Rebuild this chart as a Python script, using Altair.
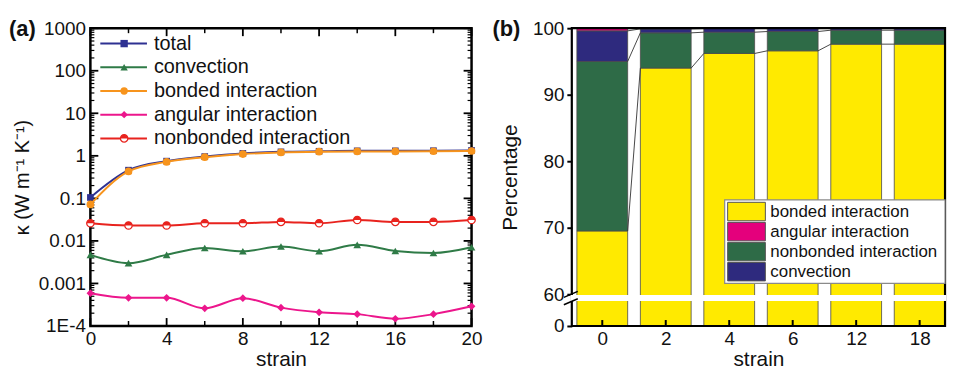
import json
import altair as alt
import pandas as pd

FONT = "Liberation Sans"

# ---------------- panel (a) data ----------------
strain_a = [0, 2, 4, 6, 8, 10, 12, 14, 16, 18, 20]
kappa_total = [0.105, 0.46, 0.75, 0.96, 1.14, 1.24, 1.28, 1.31, 1.31, 1.32, 1.34]
kappa_convection = [0.0047, 0.0030, 0.0047, 0.0068, 0.0057, 0.0074, 0.0057, 0.0081, 0.0058, 0.0052, 0.0071]
kappa_bonded = [0.072, 0.43, 0.72, 0.93, 1.10, 1.20, 1.25, 1.27, 1.27, 1.28, 1.30]
kappa_angular = [0.00059, 0.00046, 0.00046, 0.00026, 0.00045, 0.00027, 0.00021, 0.00019, 0.000148, 0.00019, 0.00029]
kappa_nonbonded = [0.026, 0.023, 0.023, 0.026, 0.026, 0.028, 0.026, 0.031, 0.028, 0.028, 0.031]

series_a = ["total", "convection", "bonded interaction", "angular interaction", "nonbonded interaction"]
colors_a = ["#2E3192", "#2F7B47", "#F7941D", "#EC168C", "#E8231E"]
shapes_a = ["square", "triangle-up", "circle", "diamond", "circle"]

y_ticks_a = [1e-4, 1e-3, 1e-2, 1e-1, 1, 10, 100, 1000]
y_minor_a = [m * 10.0 ** k for k in range(-4, 3) for m in range(2, 10)]
x_ticks_a = [0, 4, 8, 12, 16, 20]
x_minor_a = [2, 6, 10, 14, 18]

# ---------------- panel (b) data ----------------
strain_b = ["0", "2", "4", "6", "12", "18"]
pct_bonded = [69.5, 94.0, 96.2, 96.6, 97.6, 97.6]
pct_nonbonded = [25.5, 5.3, 3.2, 2.9, 2.1, 2.1]
pct_convection = [4.6, 0.6, 0.55, 0.48, 0.28, 0.28]
pct_angular = [0.4, 0.1, 0.05, 0.02, 0.02, 0.02]

stack_order = ["bonded interaction", "nonbonded interaction", "convection", "angular interaction"]
legend_b = ["bonded interaction", "angular interaction", "nonbonded interaction", "convection"]
colors_b = ["#FFEA00", "#E4007C", "#2E6B47", "#2E2A7E"]
y_ticks_b = [60, 70, 80, 90, 100]

# ---------------- layout / style ----------------
W1, H = 384, 300
W2 = 376
BREAK0 = 55.2          # where 0 sits on the broken percentage axis
HALF_BAR = 0.4
HALF_CIRCLE = "M-1,0A1,1,0,0,1,1,0Z"

# ================= panel (a) =================
rows = []
for name, vals in zip(series_a, [kappa_total, kappa_convection, kappa_bonded, kappa_angular, kappa_nonbonded]):
    for s, v in zip(strain_a, vals):
        rows.append({"series": name, "strain": s, "kappa": v})
df_a = pd.DataFrame(rows)
one = pd.DataFrame({"k": [0]})

xs_a = alt.Scale(domain=[0, 20], nice=False, zero=False)
ys_a = alt.Scale(type="log", domain=[1e-4, 1000], nice=False)

x_axis_a = alt.Axis(values=x_ticks_a, ticks=False, domain=False, labelFontSize=19, labelPadding=4,
                    labelFlush=False, title="strain", titleFontSize=21, titlePadding=0, format="d")
y_axis_a = alt.Axis(values=y_ticks_a, ticks=False, domain=False, labelFontSize=19, labelPadding=5,
                    labelOverlap=False,
                    labelExpr="datum.value < 0.0002 ? '1E-4' : (datum.value >= 1 ? format(datum.value, 'd') : format(datum.value, '.3~f'))",
                    title="κ (W m⁻¹ K⁻¹)", titleFontSize=20, titlePadding=6)

layers_a = []
layers_a.append(alt.Chart(one).mark_rect(fillOpacity=0, stroke="black", strokeWidth=2.5).encode(
    x=alt.value(0), x2=alt.value(W1), y=alt.value(0), y2=alt.value(H)))


def yrule(vals, x0, x1, w):
    return alt.Chart(pd.DataFrame({"v": vals})).mark_rule(color="black", strokeWidth=w).encode(
        y=alt.Y("v:Q", scale=ys_a, axis=None), x=alt.value(x0), x2=alt.value(x1))


def xrule(vals, y0, y1, w):
    return alt.Chart(pd.DataFrame({"v": vals})).mark_rule(color="black", strokeWidth=w).encode(
        x=alt.X("v:Q", scale=xs_a, axis=x_axis_a), y=alt.value(y0), y2=alt.value(y1))


layers_a += [
    yrule(y_ticks_a, 0, 8, 1.8), yrule(y_ticks_a, W1, W1 - 8, 1.8),
    yrule(y_minor_a, 0, 4, 1.2), yrule(y_minor_a, W1, W1 - 4, 1.2),
    xrule(x_ticks_a, H, H - 8, 1.8), xrule(x_ticks_a, 0, 8, 1.8),
    xrule(x_minor_a, H, H - 5, 1.5), xrule(x_minor_a, 0, 5, 1.5),
]

first = True
for name, color, shape in zip(series_a, colors_a, shapes_a):
    base = alt.Chart(df_a).transform_filter(alt.datum.series == name)
    xe = alt.X("strain:Q", scale=xs_a, axis=x_axis_a)
    ye_line = alt.Y("kappa:Q", scale=ys_a, axis=y_axis_a if first else None)
    ye = alt.Y("kappa:Q", scale=ys_a, axis=None)
    first = False
    layers_a.append(base.mark_line(color=color, strokeWidth=2, interpolate="monotone").encode(x=xe, y=ye_line))
    if name == "nonbonded interaction":
        layers_a.append(base.mark_point(shape="circle", filled=True, fill="white", stroke=color,
                                        strokeWidth=1.3, size=55, opacity=1).encode(x=xe, y=ye))
        layers_a.append(base.mark_point(shape=HALF_CIRCLE, filled=True, color=color, size=55,
                                        opacity=1).encode(x=xe, y=ye))
    else:
        sz = 45 if shape == "square" else 60
        layers_a.append(base.mark_point(shape=shape, filled=True, color=color, size=sz,
                                        opacity=1).encode(x=xe, y=ye))

# legend of panel (a)
leg_a = pd.DataFrame({"series": series_a})
ly = alt.Y("series:N", scale=alt.Scale(type="point", domain=series_a, range=[15.5, 111], padding=0), axis=None)
lc = alt.Color("series:N", scale=alt.Scale(domain=series_a, range=colors_a), legend=None)
lsh = alt.Shape("series:N", scale=alt.Scale(domain=series_a, range=shapes_a), legend=None)
layers_a.append(alt.Chart(leg_a).mark_rule(strokeWidth=2).encode(y=ly, x=alt.value(10), x2=alt.value(57), color=lc))
layers_a.append(alt.Chart(leg_a).transform_filter(alt.datum.series != "nonbonded interaction")
                .mark_point(filled=True, size=55, opacity=1).encode(y=ly, x=alt.value(34), color=lc, shape=lsh))
layers_a.append(alt.Chart(leg_a).transform_filter(alt.datum.series == "nonbonded interaction")
                .mark_point(shape="circle", filled=True, fill="white", stroke=colors_a[4], strokeWidth=1.3,
                            size=55, opacity=1).encode(y=ly, x=alt.value(34)))
layers_a.append(alt.Chart(leg_a).transform_filter(alt.datum.series == "nonbonded interaction")
                .mark_point(shape=HALF_CIRCLE, filled=True, color=colors_a[4], size=55, opacity=1)
                .encode(y=ly, x=alt.value(34)))
layers_a.append(alt.Chart(leg_a).mark_text(align="left", baseline="middle", fontSize=20, font=FONT,
                                           color="#111").encode(y=ly, x=alt.value(64), text="series:N"))
layers_a.append(alt.Chart(one).mark_text(text="(a)", align="left", baseline="middle", fontSize=22,
                                         fontWeight="bold", font=FONT, color="#111")
                .encode(x=alt.value(-82), y=alt.value(1)))

left = alt.layer(*layers_a).properties(width=W1, height=H).resolve_scale(y="independent")

# ================= panel (b) =================


def tr(v):
    return v if v >= 60 else BREAK0 + v * (60 - BREAK0) / 60


rows_b = []
tops = {n: [] for n in stack_order}
for i, s in enumerate(strain_b):
    cum = 0.0
    for name, vals in zip(stack_order, [pct_bonded, pct_nonbonded, pct_convection, pct_angular]):
        lo, hi = cum, cum + vals[i]
        rows_b.append({"idx": i, "strain": s, "comp": name, "lo": tr(lo), "hi": tr(hi)})
        tops[name].append(tr(hi))
        cum = hi
df_b = pd.DataFrame(rows_b)

con_rows = []
for name in stack_order[:3]:
    for i in range(len(strain_b) - 1):
        con_rows.append({"a": i, "b": i + 1, "ya": tops[name][i], "yb": tops[name][i + 1]})
df_con = pd.DataFrame(con_rows)

xs_b = alt.Scale(domain=[-0.48, 5.40], nice=False, zero=False)
ys_b = alt.Scale(domain=[BREAK0, 100], nice=False, zero=False)
cscale_b = alt.Scale(domain=legend_b, range=colors_b)

x_axis_b = alt.Axis(values=list(range(len(strain_b))), ticks=False, domain=False, labelFontSize=19,
                    labelPadding=4, labelFlush=False,
                    labelExpr=json.dumps(strain_b) + "[round(datum.value)]",
                    title="strain", titleFontSize=21, titlePadding=0)
y_axis_b = alt.Axis(values=[BREAK0] + y_ticks_b, ticks=True, tickSize=5, tickWidth=2, tickColor="black",
                    domain=False, labelFontSize=19, labelPadding=3, labelOverlap=False,
                    labelExpr="datum.value < 56 ? '0' : format(datum.value, 'd')",
                    title="Percentage", titleFontSize=21, titlePadding=12)

bars = alt.Chart(df_b).transform_calculate(
    x0=f"datum.idx - {HALF_BAR}", x1=f"datum.idx + {HALF_BAR}"
).mark_rect(stroke="#4a4a4a", strokeWidth=0.8).encode(
    x=alt.X("x0:Q", scale=xs_b, axis=x_axis_b), x2="x1:Q",
    y=alt.Y("lo:Q", scale=ys_b, axis=y_axis_b), y2="hi:Q",
    color=alt.Color("comp:N", scale=cscale_b, legend=None),
)

connectors = alt.Chart(df_con).transform_calculate(
    xa=f"datum.a + {HALF_BAR}", xb=f"datum.b - {HALF_BAR}"
).mark_rule(color="#333333", strokeWidth=0.9).encode(
    x=alt.X("xa:Q", scale=xs_b, axis=x_axis_b), x2="xb:Q",
    y=alt.Y("ya:Q", scale=ys_b, axis=None), y2="yb:Q",
)

frame_b = alt.Chart(one).mark_rect(fillOpacity=0, stroke="black", strokeWidth=2.2).encode(
    x=alt.value(0), x2=alt.value(W2), y=alt.value(0), y2=alt.value(H))

xticks_b = alt.Chart(pd.DataFrame({"v": list(range(len(strain_b)))})).mark_rule(
    color="black", strokeWidth=2).encode(
    x=alt.X("v:Q", scale=xs_b, axis=x_axis_b), y=alt.value(H), y2=alt.value(H - 6))

band = alt.Chart(one).mark_rule(color="white", strokeWidth=6).encode(
    y=alt.Y(datum=59.4, scale=ys_b, axis=None), x=alt.value(-1.5), x2=alt.value(W2 + 1))

slash1 = alt.Chart(one).mark_rule(color="black", strokeWidth=1.5).encode(
    y=alt.Y(datum=59.5, scale=ys_b, axis=None), y2=alt.Y2(datum=60.4), x=alt.value(-8), x2=alt.value(6))
slash2 = alt.Chart(one).mark_rule(color="black", strokeWidth=1.5).encode(
    y=alt.Y(datum=58.4, scale=ys_b, axis=None), y2=alt.Y2(datum=59.3), x=alt.value(-8), x2=alt.value(6))

# legend of panel (b)
LX0, LY0, LY1 = W2 - 222, 173, 257
leg_b = pd.DataFrame({"comp": legend_b})
lyb = alt.Y("comp:N", scale=alt.Scale(type="band", domain=legend_b, range=[LY0 + 2, LY1 - 2],
                                      paddingInner=0.08, paddingOuter=0.02), axis=None)
leg_box = alt.Chart(one).mark_rect(fill="white", stroke="#8a8a8a", strokeWidth=1.2).encode(
    x=alt.value(LX0), x2=alt.value(W2), y=alt.value(LY0), y2=alt.value(LY1))
leg_sw = alt.Chart(leg_b).mark_rect(stroke="#555555", strokeWidth=1).encode(
    y=lyb, x=alt.value(LX0 + 3), x2=alt.value(LX0 + 41),
    color=alt.Color("comp:N", scale=cscale_b, legend=None))
leg_tx = alt.Chart(leg_b).mark_text(align="left", baseline="middle", fontSize=17, font=FONT, color="#111").encode(
    y=lyb, x=alt.value(LX0 + 46), text="comp:N")

label_b = alt.Chart(one).mark_text(text="(b)", align="left", baseline="middle", fontSize=22,
                                   fontWeight="bold", font=FONT, color="#111").encode(
    x=alt.value(-80), y=alt.value(1))

right = alt.layer(bars, connectors, frame_b, xticks_b, band, slash1, slash2,
                  leg_box, leg_sw, leg_tx, label_b).properties(width=W2, height=H).resolve_scale(y="independent")

chart = alt.hconcat(left, right, spacing=8).resolve_scale(color="independent", shape="independent").properties(
    padding={"left": 0, "top": 8, "right": 0, "bottom": 0}
).configure_view(stroke="transparent").configure_axis(
    labelFont=FONT, titleFont=FONT, labelColor="#111", titleColor="#111",
    titleFontWeight="normal", grid=False
)

chart.save("out.html", embed_options={"renderer": "svg", "actions": False})
